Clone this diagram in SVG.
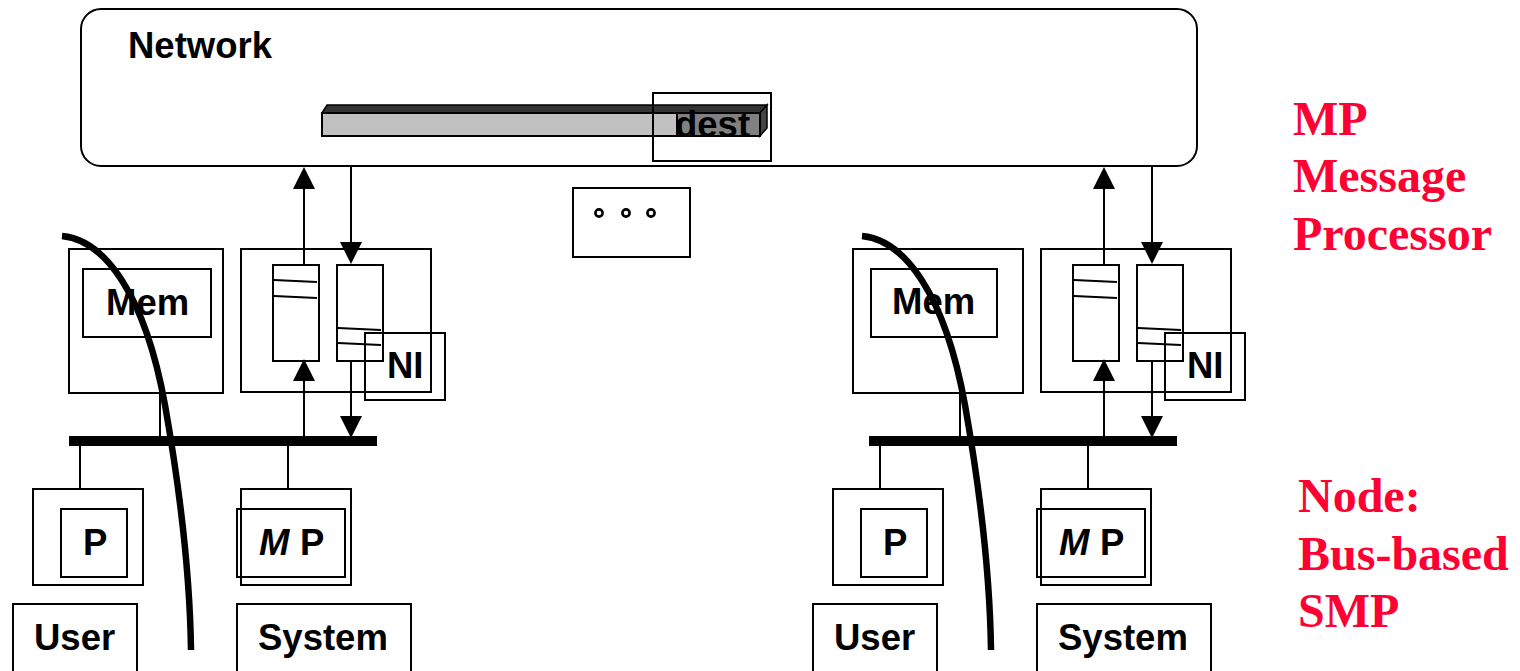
<svg xmlns="http://www.w3.org/2000/svg" width="1520" height="671" viewBox="0 0 1520 671">
  <style>
    .box { fill: #fff; stroke: #000; stroke-width: 2; }
    .open { fill: none; stroke: #000; stroke-width: 2; }
    .wire { fill: none; stroke: #000; stroke-width: 2; }
    .head { fill: #000; }
    .lbl { font-family: "Liberation Sans", Arial, sans-serif; font-weight: bold; font-size: 36.5px; fill: #000; }
    .note { font-family: "Liberation Serif", "Times New Roman", serif; font-weight: bold; font-size: 48px; fill: #ff0033; }
    .cut { fill: none; stroke: #000; stroke-width: 6.5; }
    .dot { fill: none; stroke: #000; stroke-width: 2.6; }
  </style>

  <!-- network cloud box -->
  <g id="network">
    <rect class="box" x="81" y="9" width="1116" height="157" rx="20" ry="20"/>
    <text class="lbl" x="128" y="58">Network</text>
    <!-- message packet: 3D bar with a darker destination header -->
    <g id="message">
      <polygon points="322,113 327,105 767,105 760,113" fill="#333" stroke="#000" stroke-width="1.5"/>
      <polygon points="760,113 767,105 767,128 760,136" fill="#444" stroke="#000" stroke-width="1.5"/>
      <rect x="322" y="113" width="355" height="23" fill="#c0c0c0" stroke="#000" stroke-width="2"/>
      <rect x="677" y="113" width="83" height="23" fill="#808080" stroke="#000" stroke-width="2"/>
      <rect class="open" x="653" y="93" width="118" height="68"/>
      <text class="lbl" x="675" y="137">dest</text>
    </g>
  </g>

  <!-- ellipsis for further nodes -->
  <g id="more">
    <rect class="box" x="573" y="188" width="117" height="69"/>
    <circle class="dot" cx="599" cy="213" r="3.6"/>
    <circle class="dot" cx="626" cy="213" r="3.6"/>
    <circle class="dot" cx="651" cy="213" r="3.6"/>
  </g>

  <!-- left node -->
  <g id="mem-left">
    <rect class="box" x="69" y="249" width="154" height="144"/>
    <rect class="box" x="83" y="269" width="128" height="68"/>
    <text class="lbl" x="106" y="315">Mem</text>
  </g>
  <g id="ni-left">
    <rect class="box" x="241" y="249" width="190" height="143"/>
    <rect class="box" x="273" y="265" width="46" height="96"/>
    <line class="wire" x1="274" y1="280" x2="317" y2="282"/>
    <line class="wire" x1="274" y1="296" x2="317" y2="298"/>
    <rect class="box" x="337" y="265" width="46" height="96"/>
    <line class="wire" x1="338" y1="328" x2="381" y2="330"/>
    <line class="wire" x1="338" y1="343" x2="381" y2="345"/>
    <rect class="open" x="365" y="333" width="80" height="67"/>
    <text class="lbl" x="387" y="378">NI</text>
  </g>
  <g id="p-left">
    <rect class="box" x="33" y="489" width="110" height="96"/>
    <rect class="box" x="61" y="509" width="66" height="68"/>
    <text class="lbl" x="83" y="555">P</text>
  </g>
  <g id="mp-left">
    <rect class="box" x="241" y="489" width="110" height="96"/>
    <rect class="open" x="237" y="509" width="108" height="68"/>
    <text class="lbl" x="259" y="555"><tspan font-style="italic">M</tspan><tspan x="300">P</tspan></text>
  </g>
  <g id="user-left">
    <path class="open" d="M13,673 V604 H137 V673"/>
    <text class="lbl" x="34" y="650">User</text>
  </g>
  <g id="system-left">
    <path class="open" d="M237,673 V604 H411 V673"/>
    <text class="lbl" x="258" y="650">System</text>
  </g>

  <!-- right node -->
  <g id="mem-right">
    <rect class="box" x="853" y="249" width="170" height="144"/>
    <rect class="box" x="871" y="269" width="126" height="68"/>
    <text class="lbl" x="892" y="314">Mem</text>
  </g>
  <g id="ni-right">
    <rect class="box" x="1041" y="249" width="190" height="143"/>
    <rect class="box" x="1073" y="265" width="46" height="96"/>
    <line class="wire" x1="1074" y1="280" x2="1117" y2="282"/>
    <line class="wire" x1="1074" y1="296" x2="1117" y2="298"/>
    <rect class="box" x="1137" y="265" width="46" height="96"/>
    <line class="wire" x1="1138" y1="328" x2="1181" y2="330"/>
    <line class="wire" x1="1138" y1="343" x2="1181" y2="345"/>
    <rect class="open" x="1165" y="333" width="80" height="67"/>
    <text class="lbl" x="1187" y="378">NI</text>
  </g>
  <g id="p-right">
    <rect class="box" x="833" y="489" width="110" height="96"/>
    <rect class="box" x="861" y="509" width="66" height="68"/>
    <text class="lbl" x="883" y="555">P</text>
  </g>
  <g id="mp-right">
    <rect class="box" x="1041" y="489" width="110" height="96"/>
    <rect class="open" x="1037" y="509" width="108" height="68"/>
    <text class="lbl" x="1059" y="555"><tspan font-style="italic">M</tspan><tspan x="1100">P</tspan></text>
  </g>
  <g id="user-right">
    <path class="open" d="M813,673 V604 H937 V673"/>
    <text class="lbl" x="834" y="650">User</text>
  </g>
  <g id="system-right">
    <path class="open" d="M1037,673 V604 H1211 V673"/>
    <text class="lbl" x="1058" y="650">System</text>
  </g>

  <!-- buses, links and arrows -->
  <g id="connectors">
    <rect x="69" y="436" width="308" height="10" fill="#000"/>
    <rect x="869" y="436" width="308" height="10" fill="#000"/>

    <line class="wire" x1="160" y1="393" x2="160" y2="436"/>
    <line class="wire" x1="80" y1="446" x2="80" y2="489"/>
    <line class="wire" x1="288" y1="446" x2="288" y2="489"/>
    <line class="wire" x1="960" y1="393" x2="960" y2="436"/>
    <line class="wire" x1="880" y1="446" x2="880" y2="489"/>
    <line class="wire" x1="1088" y1="446" x2="1088" y2="489"/>

    <!-- left NI to/from network -->
    <line class="wire" x1="304" y1="265" x2="304" y2="185"/>
    <polygon class="head" points="293,189 315,189 304,167"/>
    <line class="wire" x1="351" y1="167" x2="351" y2="246"/>
    <polygon class="head" points="340,242 362,242 351,264"/>
    <!-- left NI to/from bus -->
    <line class="wire" x1="304" y1="436" x2="304" y2="376"/>
    <polygon class="head" points="293,381 315,381 304,359"/>
    <line class="wire" x1="351" y1="361" x2="351" y2="420"/>
    <polygon class="head" points="340,416 362,416 351,438"/>

    <!-- right NI to/from network -->
    <line class="wire" x1="1104" y1="265" x2="1104" y2="185"/>
    <polygon class="head" points="1093,189 1115,189 1104,167"/>
    <line class="wire" x1="1152" y1="167" x2="1152" y2="246"/>
    <polygon class="head" points="1141,242 1163,242 1152,264"/>
    <!-- right NI to/from bus -->
    <line class="wire" x1="1104" y1="436" x2="1104" y2="376"/>
    <polygon class="head" points="1093,381 1115,381 1104,359"/>
    <line class="wire" x1="1152" y1="361" x2="1152" y2="420"/>
    <polygon class="head" points="1141,416 1163,416 1152,438"/>
  </g>

  <!-- user / system protection boundary -->
  <g id="boundary">
    <path class="cut" d="M62,236 C105,240 145,295 165,405 C180,490 190,580 191,650"/>
    <path class="cut" d="M862,236 C905,240 945,295 965,405 C980,490 990,580 991,650"/>
  </g>

  <!-- side notes -->
  <g id="notes">
    <text class="note" x="1293" y="135">MP</text>
    <text class="note" x="1293" y="192">Message</text>
    <text class="note" x="1293" y="250">Processor</text>
    <text class="note" x="1298" y="512">Node:</text>
    <text class="note" x="1298" y="570">Bus-based</text>
    <text class="note" x="1298" y="627">SMP</text>
  </g>
</svg>
